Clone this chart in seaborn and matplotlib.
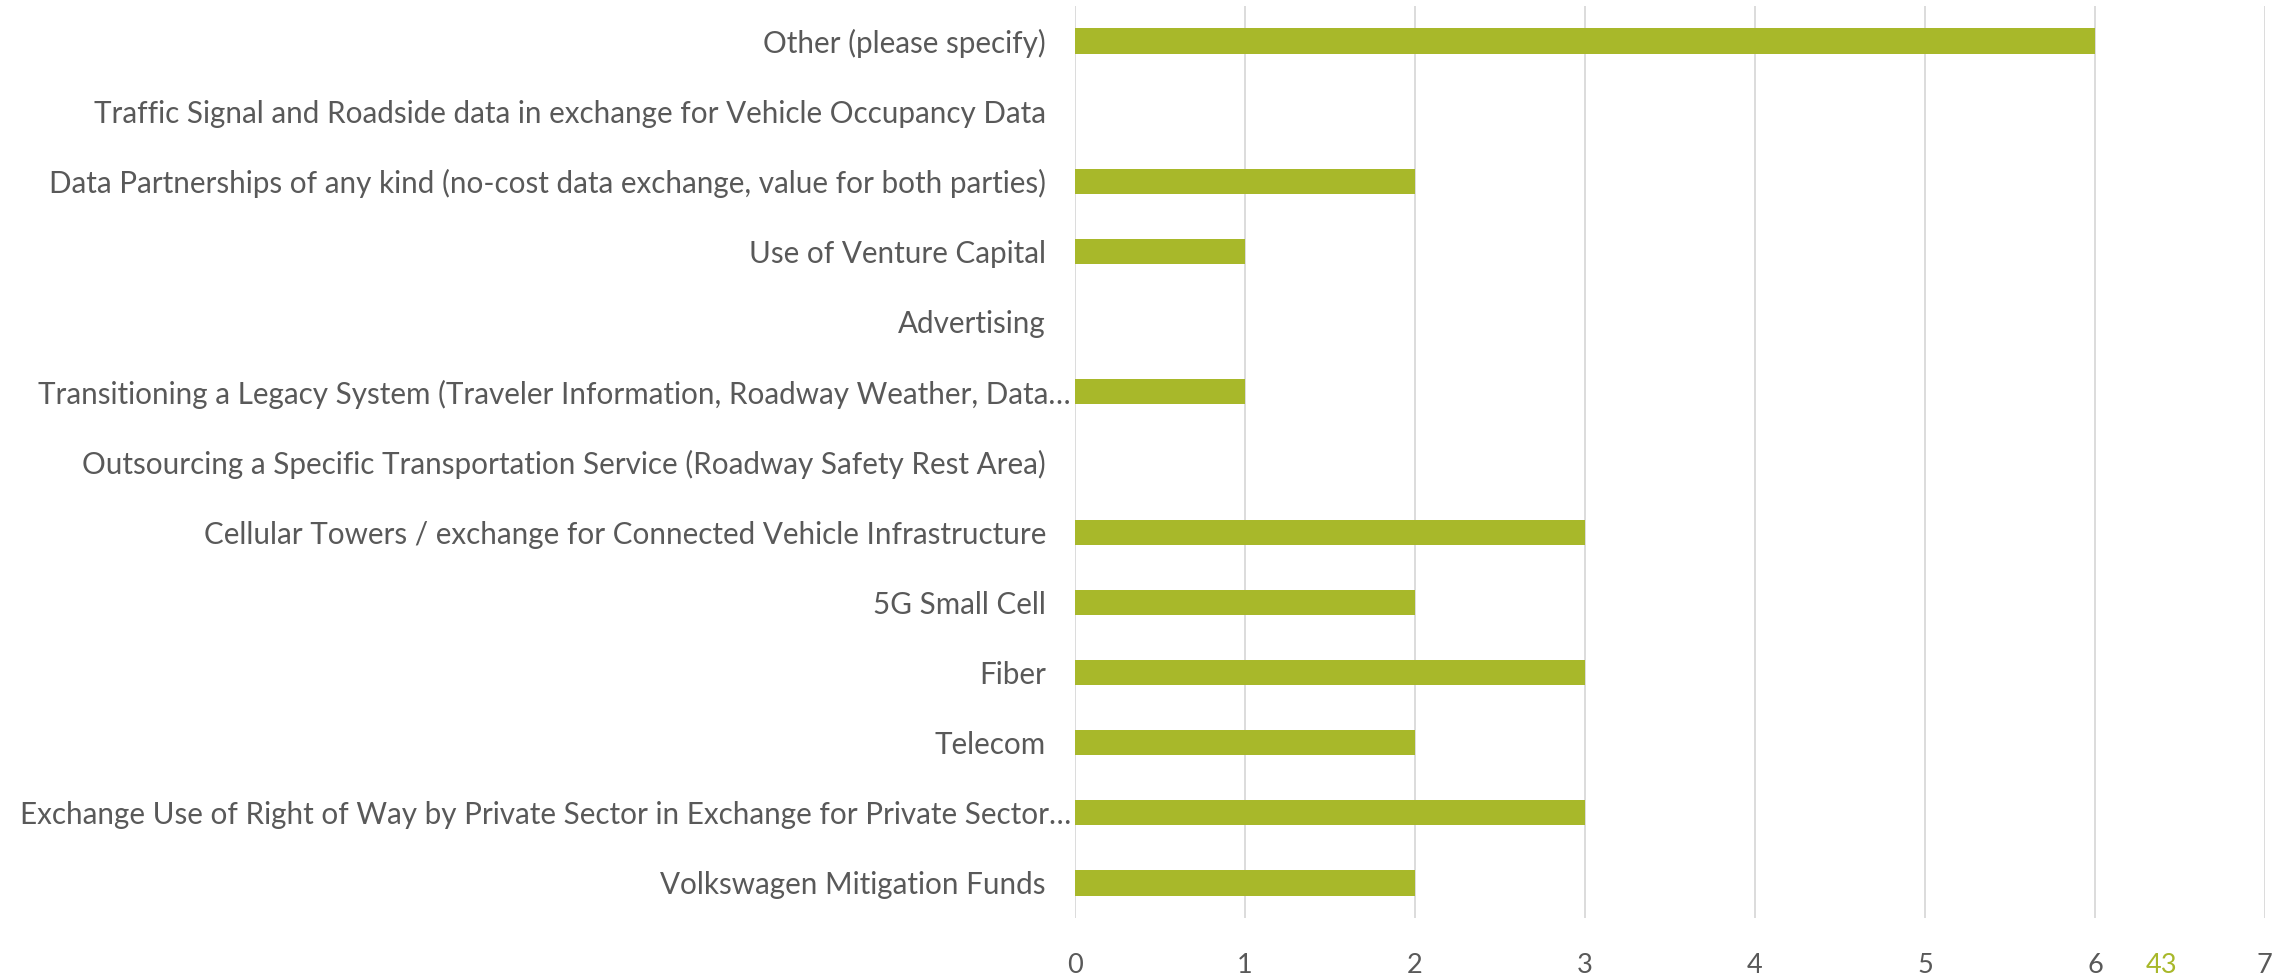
import matplotlib
matplotlib.use("Agg")
import matplotlib.pyplot as plt
import matplotlib.transforms as mtransforms
import seaborn as sns
import pandas as pd

# categories, top to bottom as drawn
categories = [
    "Other (please specify)",
    "Traffic Signal and Roadside data in exchange for Vehicle Occupancy Data",
    "Data Partnerships of any kind (no-cost data exchange, value for both parties)",
    "Use of Venture Capital",
    "Advertising",
    "Transitioning a Legacy System (Traveler Information, Roadway Weather, Data\u2026",
    "Outsourcing a Specific Transportation Service (Roadway Safety Rest Area)",
    "Cellular Towers / exchange for Connected Vehicle Infrastructure",
    "5G Small Cell",
    "Fiber",
    "Telecom",
    "Exchange Use of Right of Way by Private Sector in Exchange for Private Sector\u2026",
    "Volkswagen Mitigation Funds",
]
counts = [6, 0, 2, 1, 0, 1, 0, 3, 2, 3, 2, 3, 2]
x_ticks = [0, 1, 2, 3, 4, 5, 6, 7]
total_label = "43"

BAR = "#A8B82A"
TEXT = "#595959"
GRID = "#D9D9D9"

sns.set_style("white")
plt.rcParams["font.family"] = ["Lato", "DejaVu Sans"]

df = pd.DataFrame({"category": categories, "count": counts})

fig = plt.figure(figsize=(22.85, 9.76), dpi=100)
ax = fig.add_axes([0.4705, 0.0594, 0.9912 - 0.4705, 0.9939 - 0.0594])

sns.barplot(data=df, x="count", y="category", order=categories,
            color=BAR, saturation=1, width=0.36, linewidth=0, ax=ax)

ax.set_xlim(0, 7)
ax.set_ylim(len(categories) - 0.5, -0.5)
ax.set_xticks(x_ticks)
ax.set_xlabel("")
ax.set_ylabel("")
ax.grid(axis="x", color=GRID, linewidth=1.3)
ax.set_axisbelow(True)
for s in ax.spines.values():
    s.set_visible(False)

ax.tick_params(axis="y", length=0, pad=21, labelsize=21.3, labelcolor=TEXT)
ax.tick_params(axis="x", length=0, pad=25, labelsize=19.5, labelcolor=TEXT)

# truncated labels sit right against the axis, like the original
for tick, lab in zip(ax.yaxis.get_major_ticks(), categories):
    if lab.endswith("\u2026"):
        tick.set_pad(3)

# stray total shown in green next to the axis ticks
trans = mtransforms.blended_transform_factory(ax.transData, ax.transAxes)
ax.text(6.39, -0.052, total_label, transform=trans, color=BAR,
        fontsize=19.5, ha="center", va="center")

fig.savefig("out.png", dpi=100)
